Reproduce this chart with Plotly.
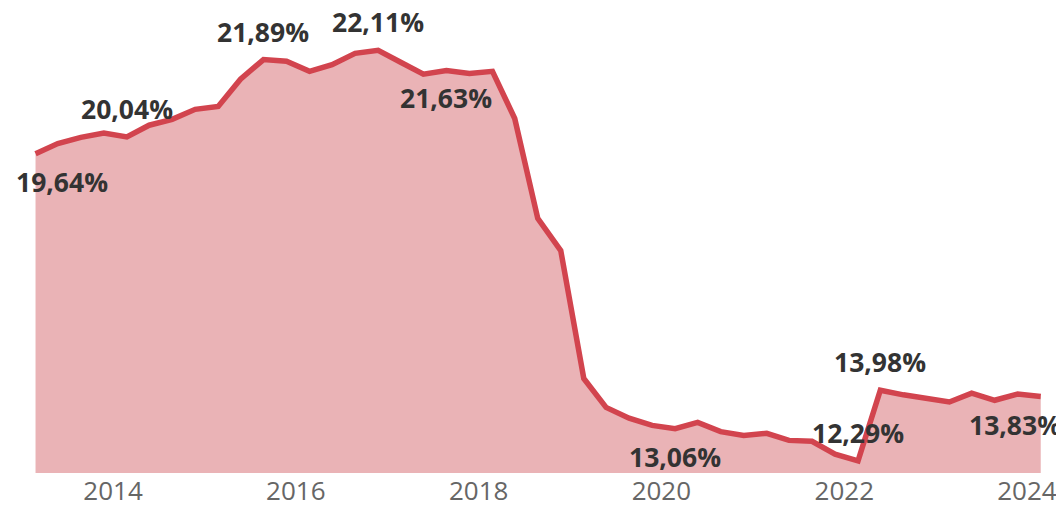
import plotly.graph_objects as go

dates = [f"{y}-{m:02d}-25" for y in range(2013, 2025) for m in (2, 5, 8, 11)][:45]

values = [19.64, 19.88, 20.03, 20.13, 20.04, 20.32, 20.46, 20.70, 20.77, 21.42,
          21.89, 21.85, 21.61, 21.77, 22.04, 22.11, 21.82, 21.54, 21.63, 21.56,
          21.61, 20.48, 18.09, 17.32, 14.26, 13.57, 13.31, 13.14, 13.06, 13.21,
          12.99, 12.90, 12.95, 12.78, 12.76, 12.45, 12.29, 13.98, 13.87, 13.77,
          13.70, 13.91, 13.74, 13.89, 13.83]

label_idx = [0, 4, 10, 15, 18, 28, 36, 37, 44]
label_side = ["below", "above", "above", "above", "below", "below", "above", "above", "below"]
label_dx = [26, 0, 0, 0, 0, 0, 0, 0, -26]

LINE = "#D2444E"
FILL = "#EAB3B6"

fig = go.Figure()
fig.add_trace(go.Scatter(
    x=dates, y=values, mode="lines",
    line=dict(color=LINE, width=5.5),
    fill="tozeroy", fillcolor=FILL,
    hoverinfo="skip", showlegend=False,
))

for i, side, dx in zip(label_idx, label_side, label_dx):
    txt = f"{values[i]:.2f}%".replace(".", ",")
    fig.add_annotation(
        x=dates[i], y=values[i], text=f"<b>{txt}</b>", showarrow=False,
        xshift=dx, yshift=(28 if side == "above" else -28),
        font=dict(family="Open Sans", size=26.5, color="#333333"),
    )

fig.update_layout(
    width=1056, height=502,
    margin=dict(l=0, r=0, t=0, b=37),
    paper_bgcolor="white", plot_bgcolor="white",
    xaxis=dict(
        range=["2012-11-07", "2024-05-28"],
        showgrid=False, zeroline=False, showline=False,
        tickformat="%Y", dtick="M24", tick0="2014-01-01",
        tickfont=dict(family="Open Sans", size=26, color="#666666"),
        ticks="",
    ),
    yaxis=dict(
        range=[12, 23.124], visible=False, showgrid=False, zeroline=False,
    ),
)

fig.write_html("out.html")
